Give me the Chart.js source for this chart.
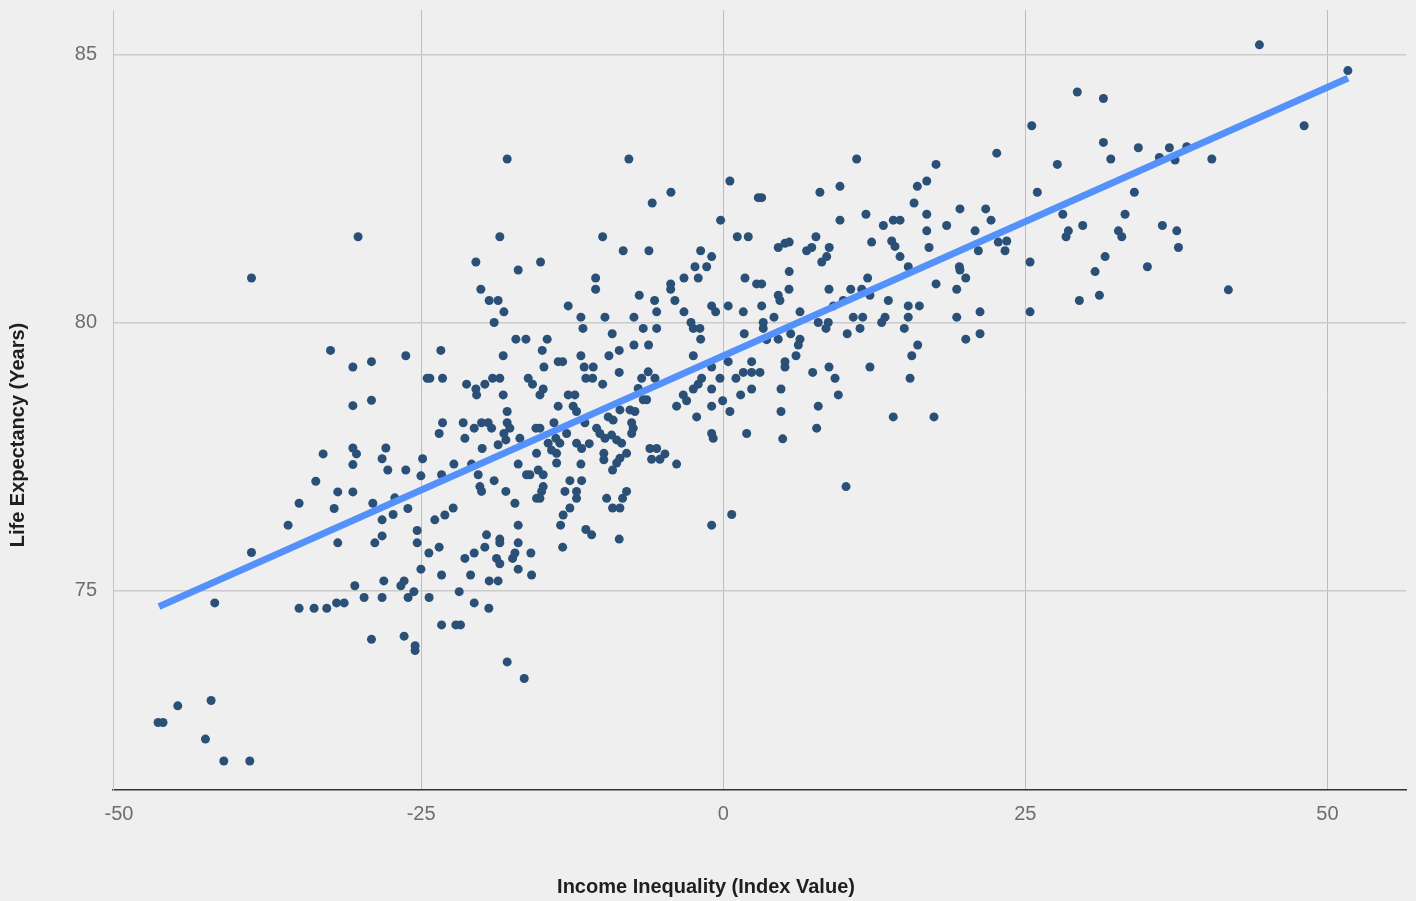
<!DOCTYPE html>
<html>
<head>
<meta charset="utf-8">
<script src="https://cdn.jsdelivr.net/npm/chart.js@4"></script>
<style>
  html, body { margin: 0; padding: 0; background: #efefef; }
  canvas { display: block; }
</style>
</head>
<body>
<canvas id="scatter" width="1416" height="901"></canvas>
<script>
// income inequality index (x) and life expectancy in years (y)
const incomeIdx = [
  -30.22, -39.04, -39.04, -42.08, -35.10, -33.86, -32.81, -32.00, -31.37, -31.90,
  -28.83, -25.33, -24.36, -25.02, -30.49, -28.09, -29.72, -28.23, -26.68, -26.41,
  -25.60, -26.08, -24.34, -29.11, -26.41, -25.50, -25.50, -45.14, -42.38, -46.77,
  -46.36, -42.85, -41.33, -39.18, -32.50, -30.65, -29.11, -26.27, -24.50, -30.65,
  -29.11, -33.11, -30.65, -30.35, -27.92, -28.23, -30.65, -27.76, -26.27, -24.88,
  -25.02, -33.72, -31.90, -30.65, -35.10, -32.20, -29.00, -27.18, -26.10, -27.32,
  -28.23, -36.01, -25.33, -28.23, -16.97, -10.56, -10.56, -20.06, -19.37, -18.63,
  -18.15, -18.96, -12.83, -11.78, -11.61, -9.79, -9.19, -6.95, -7.39, -6.62,
  -5.68, -5.51, -5.51, -4.35, -4.35, -4.00, -3.25, -2.07, -3.25, -2.67,
  -2.48, -1.93, -1.87, -0.96, -0.63, 0.41, 1.66, 1.80, 2.76, 1.74,
  -23.37, -17.16, -16.33, -14.57, -14.98, -18.21, -14.84, -13.66, -13.29, -11.78,
  -11.51, -10.76, -11.37, -10.81, -9.98, -9.46, -8.61, -8.61, -7.39, -6.18,
  -2.48, -0.96, 0.41, 2.35, 1.66, 2.35, 1.05, -0.27, -1.79, -2.07,
  -2.48, -0.96, 2.35, 1.44, -0.05, -0.96, 0.55, -2.20, -3.86, -3.31,
  -3.03, -0.96, -0.83, 1.94, -24.28, -23.23, -21.24, -20.47, -20.41, -19.73,
  -19.09, -18.49, -18.21, -16.14, -15.78, -14.90, -15.17, -12.83, -12.28, -13.66,
  -12.42, -12.14, -17.88, -23.23, -21.52, -20.61, -20.00, -19.45, -19.17, -17.88,
  -17.66, -23.51, -21.38, -18.15, -17.99, -18.63, -19.95, -16.83, -15.50, -15.17,
  -14.01, -14.49, -13.85, -13.52, -14.21, -13.79, -13.79, -15.45, -12.96, -12.14,
  -11.72, -11.09, -11.78, -11.45, -10.48, -10.21, -9.79, -9.52, -9.11, -8.55,
  -7.72, -7.31, -9.24, -8.82, -8.41, -8.00, -9.88, -9.88, -8.55, -8.82,
  -9.16, -7.58, -7.45, -7.58, -7.04, -6.62, -6.34, -6.75, -6.21, -5.65,
  -6.07, -5.51, -5.93, -5.24, -4.83, -3.86, -22.29, -23.31, -20.28, -20.83,
  -20.14, -20.00, -18.96, -17.99, -16.97, -16.28, -16.00, -15.31, -14.90, -14.90,
  -15.03, -15.45, -15.17, -17.24, -12.69, -11.72, -13.10, -12.14, -12.14, -9.65,
  -8.00, -8.33, -9.16, -8.55, -12.69, -13.25, -13.46, -16.97, -19.59, -18.49,
  -11.37, -10.89, -8.61, -23.04, -22.35, -23.87, 0.70, -0.96, -17.88, -7.81,
  0.55, 2.90, -4.33, -5.88, -0.22, 1.16, 2.07, -18.49, -9.98, -8.28,
  -6.15, -1.87, -0.96, -2.34, -1.37, -20.47, -15.12, 11.04, 22.63, 25.53,
  29.30, 27.65, 25.99, 17.61, 16.84, 16.06, 15.79, 9.66, 8.00, 11.81,
  9.66, 13.25, 14.07, 14.63, 16.84, 16.84, 18.49, 19.59, 21.72, 22.16,
  20.84, 21.11, 17.03, 12.28, 13.94, 14.21, 14.63, 15.31, 19.54, 7.67,
  8.77, 8.56, 8.15, 6.90, 7.32, 4.55, 5.11, 5.46, 3.18, 5.46,
  22.76, 23.46, 23.32, 25.39, 28.10, 28.56, 28.37, 29.75, 44.37, 51.69,
  31.46, 48.07, 31.46, 32.07, 34.35, 36.92, 38.36, 36.09, 37.39, 40.43,
  34.02, 33.25, 32.70, 32.98, 36.34, 37.53, 37.67, 31.60, 35.10, 30.77,
  31.13, 41.80, 11.95, 3.18, 8.75, 10.55, 11.46, 5.44, 4.55, 4.69,
  3.18, 9.11, 9.93, 12.14, 13.66, 15.31, 16.23, 17.61, 19.32, 20.07,
  19.59, 4.20, 6.35, 3.31, 3.31, 7.86, 8.69, 8.50, 10.76, 11.54,
  11.32, 10.26, 13.11, 13.39, 15.31, 14.98, 19.32, 21.25, 25.39, 29.47,
  20.07, 21.25, 16.09, 15.60, 15.46, 5.58, 4.55, 3.59, 6.35, 6.21,
  6.02, 5.11, 5.11, 3.04, 7.40, 8.75, 9.25, 12.14, 9.52, 4.78,
  4.78, 7.86, 7.73, 4.92, 14.07, 17.44, 10.16, -23.51, -21.38, -20.61,
  -19.73, -18.49, -18.76, -18.49, -17.43, -17.24, -16.97, -15.92, -16.97, -15.86,
  -23.31, -20.91, -19.37, -18.63, -13.29, -21.85, -20.61, -19.40, -23.31, -22.13,
  -21.74, -17.88, -16.47
];

const lifeExp = [
  81.60, 80.83, 75.71, 74.77, 74.67, 74.67, 74.67, 74.77, 74.77, 75.89,
  75.89, 75.89, 75.70, 75.40, 75.09, 75.18, 74.87, 74.87, 75.09, 75.18,
  74.98, 74.87, 74.87, 74.09, 74.15, 73.97, 73.88, 72.85, 72.95, 72.54,
  72.54, 72.23, 71.82, 71.82, 79.48, 79.17, 79.27, 79.38, 78.96, 78.45,
  78.55, 77.55, 77.66, 77.55, 77.66, 77.46, 77.35, 77.25, 77.25, 77.46,
  77.14, 77.04, 76.84, 76.84, 76.63, 76.53, 76.63, 76.73, 76.53, 76.42,
  76.32, 76.22, 76.12, 76.02, 80.98, 80.83, 80.62, 80.62, 80.41, 80.41,
  80.20, 80.00, 80.31, 80.10, 79.89, 80.10, 79.79, 80.51, 80.10, 79.89,
  80.41, 80.20, 79.89, 80.72, 80.62, 80.41, 80.83, 80.83, 80.20, 80.00,
  79.89, 79.89, 79.69, 80.31, 80.20, 80.31, 80.20, 80.83, 80.72, 79.79,
  79.48, 79.69, 79.69, 79.69, 79.48, 79.38, 79.17, 79.27, 79.27, 79.38,
  79.17, 79.17, 78.96, 78.96, 78.85, 79.38, 79.48, 79.07, 79.58, 79.58,
  79.38, 79.17, 79.27, 79.27, 79.07, 79.07, 78.96, 78.96, 78.96, 78.85,
  78.76, 78.76, 78.76, 78.65, 78.54, 78.44, 78.34, 78.24, 78.44, 78.65,
  78.54, 77.93, 77.84, 77.93, 78.96, 78.96, 78.85, 78.76, 78.65, 78.85,
  78.96, 78.96, 78.65, 78.96, 78.85, 78.76, 78.65, 78.65, 78.65, 78.44,
  78.44, 78.34, 78.34, 78.13, 78.13, 78.03, 78.13, 78.13, 78.03, 78.13,
  78.03, 77.93, 77.84, 77.93, 77.81, 77.72, 77.65, 77.84, 78.03, 78.03,
  78.13, 77.75, 77.84, 77.75, 77.62, 77.56, 77.38, 77.56, 77.93, 77.75,
  77.65, 77.74, 77.36, 78.13, 78.03, 77.93, 77.84, 78.24, 78.18, 78.37,
  78.37, 78.34, 77.90, 77.81, 77.75, 77.56, 77.56, 77.44, 77.47, 77.38,
  77.25, 78.13, 78.03, 77.93, 78.77, 78.56, 78.56, 78.96, 79.08, 78.96,
  77.65, 77.65, 77.45, 77.45, 77.55, 77.36, 77.36, 77.16, 77.16, 77.36,
  76.94, 76.85, 77.05, 76.85, 77.36, 77.16, 77.16, 77.25, 77.16, 76.94,
  76.85, 76.72, 76.72, 76.63, 77.05, 77.05, 76.85, 76.85, 76.72, 76.72,
  76.85, 76.72, 76.54, 76.54, 76.54, 76.41, 76.22, 76.22, 76.04, 75.96,
  76.14, 76.04, 75.96, 76.41, 76.54, 76.32, 76.42, 76.22, 83.05, 83.05,
  82.64, 82.33, 82.43, 82.23, 81.91, 81.60, 81.60, 81.60, 81.60, 81.34,
  81.34, 81.34, 81.23, 81.04, 81.04, 81.13, 81.13, 83.05, 83.16, 83.67,
  84.30, 82.95, 82.43, 82.95, 82.64, 82.54, 82.23, 82.54, 82.43, 82.02,
  81.91, 81.81, 81.91, 81.91, 82.02, 81.71, 81.81, 82.12, 82.12, 81.91,
  81.71, 81.34, 81.40, 81.50, 81.52, 81.42, 81.23, 81.04, 81.04, 81.60,
  81.40, 81.23, 81.13, 81.34, 81.40, 81.40, 81.48, 81.50, 82.33, 80.95,
  81.50, 81.52, 81.34, 81.13, 82.02, 81.71, 81.60, 81.81, 85.18, 84.70,
  84.18, 83.67, 83.36, 83.05, 83.26, 83.26, 83.28, 83.08, 83.03, 83.05,
  82.43, 82.02, 81.71, 81.60, 81.81, 81.71, 81.40, 81.23, 81.04, 80.95,
  80.51, 80.61, 80.83, 80.72, 80.62, 80.62, 80.62, 80.62, 80.51, 80.41,
  80.31, 80.31, 80.41, 80.51, 80.41, 80.31, 80.31, 80.72, 80.62, 80.83,
  80.98, 80.10, 80.20, 80.00, 79.89, 80.00, 80.00, 79.89, 80.10, 80.10,
  79.89, 79.79, 80.00, 80.10, 80.10, 79.89, 80.10, 80.20, 80.20, 80.41,
  79.69, 79.79, 79.58, 79.38, 78.96, 79.79, 79.69, 79.68, 79.69, 79.58,
  79.38, 79.27, 79.17, 79.07, 79.07, 79.17, 78.96, 79.17, 78.65, 78.76,
  78.34, 78.44, 78.03, 77.83, 78.24, 78.24, 76.94, 75.81, 75.60, 75.70,
  75.81, 75.89, 75.60, 75.50, 75.60, 75.70, 75.89, 75.70, 75.40, 75.29,
  75.29, 75.29, 75.18, 75.18, 75.81, 74.98, 74.77, 74.67, 74.36, 74.36,
  74.36, 73.67, 73.36
];

// fitted trend line end points
const trendX = [-46.7, 51.7];
const trendY = [74.70, 84.56];

const xTicks = [-50, -25, 0, 25, 50];
const yTicks = [75, 80, 85];

const xTitle = 'Income Inequality (Index Value)';
const yTitle = 'Life Expectancy (Years)';

const points = incomeIdx.map((x, i) => ({x: x, y: lifeExp[i]}));
const trend = trendX.map((x, i) => ({x: x, y: trendY[i]}));

const fontFamily = '"Liberation Sans", Arial, sans-serif';
const tickFont = {family: fontFamily, size: 20};

// axis titles sit relative to the whole canvas, not the plot area
const axisTitles = {
    id: 'axisTitles',
    afterDraw(chart) {
        const ctx = chart.ctx;
        ctx.save();
        ctx.fillStyle = '#1f1f1f';
        ctx.font = 'bold 20px ' + fontFamily;
        ctx.textAlign = 'center';
        ctx.textBaseline = 'middle';
        ctx.fillText(xTitle, chart.width / 2 - 2, 887);
        ctx.translate(18, 435);
        ctx.rotate(-Math.PI / 2);
        ctx.fillText(yTitle, 0, 0);
        ctx.restore();
    }
};

new Chart(document.getElementById('scatter'), {
    type: 'scatter',
    data: {
        datasets: [
            {
                type: 'line',
                data: trend,
                borderColor: '#5591fa',
                borderWidth: 7,
                pointRadius: 0,
                fill: false,
                order: 0
            },
            {
                data: points,
                backgroundColor: '#2b5077',
                borderWidth: 0,
                pointRadius: 4.5,
                pointHoverRadius: 4.5,
                order: 1
            }
        ]
    },
    options: {
        responsive: false,
        animation: false,
        devicePixelRatio: 1,
        layout: {padding: {top: 10, right: 10, left: 0, bottom: 0}},
        plugins: {
            legend: {display: false},
            tooltip: {enabled: false}
        },
        scales: {
            x: {
                type: 'linear',
                min: -50.5,
                max: 56.5,
                afterBuildTicks: s => { s.ticks = xTicks.map(v => ({value: v})); },
                afterFit: s => { s.height = 111; s.paddingLeft = 0; s.paddingRight = 0; },
                grid: {
                    color: c => (c.tick && c.tick.value === xTicks[0]) ? 'rgba(0,0,0,0)' : '#bdbdbd',
                    lineWidth: 1,
                    drawTicks: false
                },
                border: {color: '#333', width: 1.5},
                ticks: {font: tickFont, color: '#6e6e6e', padding: 12, maxRotation: 0}
            },
            y: {
                min: 71.28,
                max: 85.83,
                afterBuildTicks: s => { s.ticks = yTicks.map(v => ({value: v})); },
                afterFit: s => { s.width = 113; s.paddingTop = 0; s.paddingBottom = 0; },
                grid: {color: '#cbcbcb', lineWidth: 1.5, drawTicks: false},
                border: {color: '#c4c4c4', width: 1},
                ticks: {font: tickFont, color: '#6e6e6e', padding: 16}
            }
        }
    },
    plugins: [axisTitles]
});
</script>
</body>
</html>
